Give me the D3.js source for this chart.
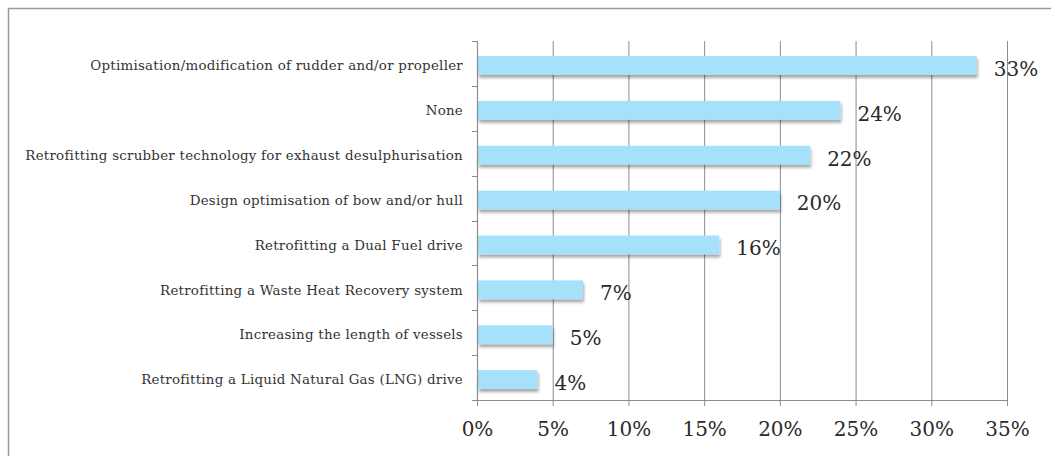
<!DOCTYPE html>
<html>
<head>
<meta charset="utf-8">
<script src="https://cdn.jsdelivr.net/npm/d3@7"></script>
<style>
  html, body { margin: 0; padding: 0; background: #fff; }
  svg { display: block; }
  text { font-family: Georgia, "DejaVu Serif", "Liberation Serif", serif; }
</style>
</head>
<body>
<svg id="chart" width="1051" height="456"></svg>
<script>
// Retrofit measures and share of respondents (%)
const categories = [
  "Optimisation/modification of rudder and/or propeller",
  "None",
  "Retrofitting scrubber technology for exhaust desulphurisation",
  "Design optimisation of bow and/or hull",
  "Retrofitting a Dual Fuel drive",
  "Retrofitting a Waste Heat Recovery system",
  "Increasing the length of vessels",
  "Retrofitting a Liquid Natural Gas (LNG) drive"
];
const values = [33, 24, 22, 20, 16, 7, 5, 4];
const tickValues = [0, 5, 10, 15, 20, 25, 30, 35];

const svg = d3.select("#chart");

// frame around the chart area
svg.append("path")
  .attr("d", "M8.5,456 V8.5 H1051")
  .attr("fill", "none")
  .attr("stroke", "#9a9a9a")
  .attr("stroke-width", 1.5);

const plotLeft = 477, plotRight = 1007, plotTop = 41, plotBottom = 400;

const x = d3.scaleLinear().domain([0, 35]).range([plotLeft, plotRight]);
const y = d3.scaleBand().domain(categories).range([plotTop, plotBottom]);

// soft shadow under each bar
const defs = svg.append("defs");
const f = defs.append("filter").attr("id", "shadow")
  .attr("x", "-5%").attr("y", "-30%").attr("width", "115%").attr("height", "190%");
f.append("feDropShadow")
  .attr("dx", 1).attr("dy", 3).attr("stdDeviation", 1.6)
  .attr("flood-color", "#000").attr("flood-opacity", 0.35);

// vertical gridlines
svg.append("g")
  .selectAll("line")
  .data(tickValues.slice(1))
  .join("line")
  .attr("x1", d => x(d) + 0.5).attr("x2", d => x(d) + 0.5)
  .attr("y1", plotTop).attr("y2", plotBottom)
  .attr("stroke", "#8c8c8c").attr("stroke-width", 1);

// bars
const bw = y.bandwidth();
svg.append("g")
  .selectAll("rect")
  .data(values)
  .join("rect")
  .attr("x", plotLeft + 1)
  .attr("y", (d, i) => y(categories[i]) + bw * 0.335)
  .attr("width", d => x(d) - plotLeft - 1)
  .attr("height", bw * 0.42)
  .attr("fill", "#a5e1fb")
  .attr("filter", "url(#shadow)");

// x axis
const xAxis = d3.axisBottom(x)
  .tickValues(tickValues)
  .tickFormat(d => d + "%")
  .tickSize(6)
  .tickSizeOuter(0);
const gx = svg.append("g").attr("transform", `translate(0,${plotBottom})`).call(xAxis);
gx.select(".domain").attr("stroke", "#8c8c8c").attr("stroke-width", 1.2);
gx.selectAll(".tick line").attr("stroke", "#8c8c8c");
gx.selectAll(".tick text")
  .attr("y", 22)
  .attr("fill", "#2a2a2a")
  .attr("font-size", 20)
  .style("font-family", 'Georgia, "DejaVu Serif", serif');

// y axis line with ticks at band boundaries
svg.append("line")
  .attr("x1", plotLeft + 0.5).attr("x2", plotLeft + 0.5)
  .attr("y1", plotTop).attr("y2", plotBottom)
  .attr("stroke", "#8c8c8c").attr("stroke-width", 1.2);
const bounds = categories.map(c => y(c)).concat([plotBottom]);
svg.append("g")
  .selectAll("line")
  .data(bounds)
  .join("line")
  .attr("x1", plotLeft - 5).attr("x2", plotLeft)
  .attr("y1", d => Math.round(d) + 0.5).attr("y2", d => Math.round(d) + 0.5)
  .attr("stroke", "#8c8c8c");

// category labels
svg.append("g")
  .selectAll("text")
  .data(categories)
  .join("text")
  .attr("x", 463)
  .attr("y", d => y(d) + bw * 0.545)
  .attr("dy", "0.35em")
  .attr("text-anchor", "end")
  .attr("font-size", 13.4)
  .attr("letter-spacing", 0.25)
  .attr("fill", "#333")
  .text(d => d);

// value labels
svg.append("g")
  .selectAll("text")
  .data(values)
  .join("text")
  .attr("x", d => x(d) + 17)
  .attr("y", (d, i) => y(categories[i]) + bw * 0.62)
  .attr("dy", "0.35em")
  .attr("font-size", 20)
  .attr("fill", "#2a2a2a")
  .text(d => d + "%");
</script>
</body>
</html>
